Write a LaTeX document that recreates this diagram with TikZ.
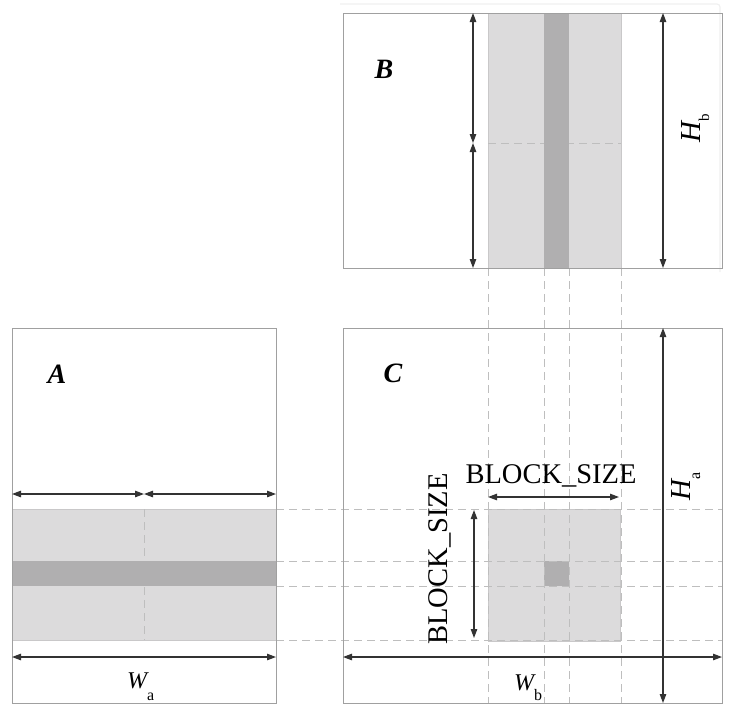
\documentclass[tikz,border=0pt]{standalone}
\usepackage{fontspec}
\setmainfont{Liberation Serif}
\usetikzlibrary{arrows.meta}
\definecolor{lightfill}{HTML}{DCDBDC}
\definecolor{lightedge}{HTML}{C9C8C9}
\definecolor{darkfill}{HTML}{B0AFB0}
\definecolor{boxline}{HTML}{A0A0A0}
\definecolor{dashline}{HTML}{BEBEBE}
\definecolor{shadowline}{HTML}{F0F0F0}
\begin{document}
\begin{tikzpicture}[x=1pt,y=-1pt,
  box/.style={draw=boxline,line width=1pt},
  lightzone/.style={fill=lightfill,draw=lightedge,line width=0.6pt},
  darkzone/.style={fill=darkfill},
  guide/.style={draw=dashline,line width=0.7pt,dash pattern=on 8pt off 5pt},
  dim/.style={{Triangle[length=9pt,width=6.5pt]}-{Triangle[length=9pt,width=6.5pt]},line width=1.1pt,draw=black!80,fill=black!85},
  lbl/.style={font=\fontsize{28}{28}\selectfont\bfseries\itshape},
  sizelbl/.style={font=\fontsize{28.5}{28.5}\selectfont},
  wlbl/.style={font=\fontsize{24}{24}\selectfont\itshape,inner sep=0pt,anchor=base west},
  hlbl/.style={font=\fontsize{29}{29}\selectfont\itshape,inner sep=0pt,anchor=base west,rotate=90}
]
\useasboundingbox (0,0) rectangle (736,716);

% faint shadow of B
\draw[shadowline,line width=1.2pt,rounded corners=3pt] (340,4) -- (720,4) -- (720,272);

% ---------- fills ----------
% A band
\draw[lightzone] (12,509) rectangle (276,640);
\draw[guide] (144,509) -- (144,640);
\fill[darkzone] (12,561) rectangle (276,586);
% B column
\draw[lightzone] (488,13) rectangle (621,268);
\draw[guide] (488,143) -- (621,143);
\fill[darkzone] (544,13) rectangle (569,268);
% C block
\draw[lightzone] (488,509) rectangle (620,641);
\fill[darkzone] (544,561) rectangle (569,586);

% ---------- guide lines ----------
\foreach \yy in {509,561,586,640} \draw[guide] (276,\yy) -- (722,\yy);
\foreach \xx in {488,544,569,621} \draw[guide] (\xx,268) -- (\xx,703);

% ---------- boxes ----------
\draw[box] (12,328) rectangle (276,703);
\draw[box] (343,13) rectangle (722,268);
\draw[box] (343,328) rectangle (722,703);

% ---------- dimension coordinates ----------
\coordinate (a1) at (12,494);  \coordinate (a2) at (144,494); \coordinate (a3) at (276,494);
\coordinate (a4) at (12,657);  \coordinate (a5) at (276,657);
\coordinate (b1) at (473,13);  \coordinate (b2) at (473,143); \coordinate (b3) at (473,268);
\coordinate (b4) at (663,13);  \coordinate (b5) at (663,268);
\coordinate (c1) at (488,497); \coordinate (c2) at (619,497);
\coordinate (c3) at (474,510); \coordinate (c4) at (474,638);
\coordinate (c5) at (343,657); \coordinate (c6) at (722,657);
\coordinate (c7) at (663,328); \coordinate (c8) at (663,703);

\draw[dim] (a1) -- (a2);
\draw[dim] (a2) -- (a3);
\draw[dim] (a4) -- (a5);
\draw[dim] (b1) -- (b2);
\draw[dim] (b2) -- (b3);
\draw[dim] (b4) -- (b5);
\draw[dim] (c1) -- (c2);
\draw[dim] (c3) -- (c4);
\draw[dim] (c5) -- (c6);
\draw[dim] (c7) -- (c8);

% ---------- labels ----------
\node[lbl] (labA) at (57,374) {A};
\node[lbl] (labB) at (384,69) {B};
\node[lbl] (labC) at (393,373) {C};

\node[wlbl] (Wa) at (127,688) {W\raisebox{-12pt}{\upshape\fontsize{16}{16}\selectfont a}};
\node[wlbl] (Wb) at (514,690) {W\raisebox{-10pt}{\upshape\fontsize{16}{16}\selectfont b}};
\node[hlbl] (Hb) at (700,143) {H\raisebox{-9pt}{\upshape\fontsize{15}{15}\selectfont b}};
\node[hlbl] (Ha) at (690,501) {H\raisebox{-10pt}{\upshape\fontsize{16}{16}\selectfont a}};

\node[sizelbl] (bsh) at (551,476) {BLOCK\_SIZE};
\node[sizelbl,rotate=90] (bsv) at (440,559) {BLOCK\_SIZE};
\end{tikzpicture}
\end{document}
